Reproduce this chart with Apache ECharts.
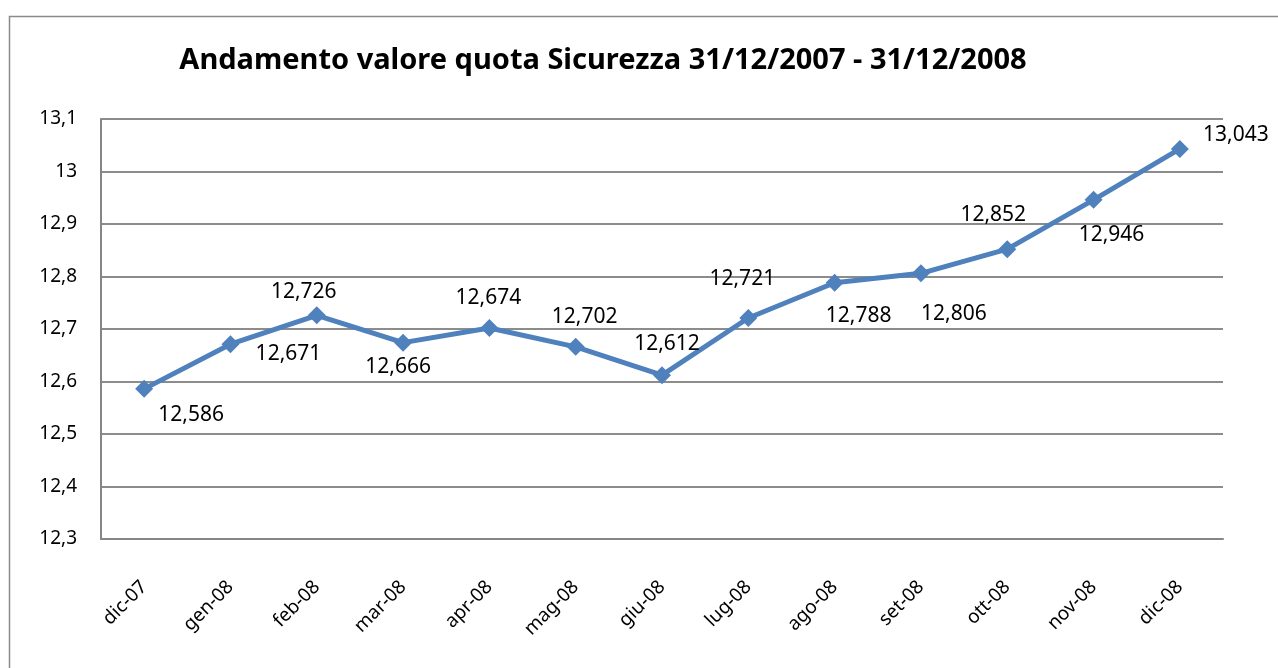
<!DOCTYPE html>
<html>
<head>
<meta charset="utf-8">
<script src="https://cdn.jsdelivr.net/npm/echarts@6/dist/echarts.min.js"></script>
<style>
  html, body { margin: 0; padding: 0; background: #fff; }
  #chart { width: 1278px; height: 668px; }
</style>
</head>
<body>
<div id="chart"></div>
<script>
// dati
var mesi = ['dic-07', 'gen-08', 'feb-08', 'mar-08', 'apr-08', 'mag-08', 'giu-08',
            'lug-08', 'ago-08', 'set-08', 'ott-08', 'nov-08', 'dic-08'];
var valori = [12.586, 12.671, 12.726, 12.674, 12.702, 12.666, 12.612,
              12.721, 12.788, 12.806, 12.852, 12.946, 13.043];
// etichette come appaiono nel grafico originale
var etichette = ['12,586', '12,671', '12,726', '12,666', '12,674', '12,702', '12,612',
                 '12,721', '12,788', '12,806', '12,852', '12,946', '13,043'];
var spostamenti = [[47, 26], [58, 10], [-13, -23], [-5, 24], [-1, -30], [9, -30], [5, -31],
                   [-6, -39], [24, 33], [33, 41], [-14, -34], [18, 35], [56, -14]];

var chart = echarts.init(document.getElementById('chart'));

var punti = valori.map(function (v, i) {
  return {
    value: v,
    label: { offset: spostamenti[i] }
  };
});

var option = {
  animation: false,
  title: {
    text: 'Andamento valore quota Sicurezza 31/12/2007 - 31/12/2008',
    left: 598,
    textAlign: 'center',
    top: 41,
    textStyle: {
      fontFamily: '"Noto Sans", sans-serif',
      fontWeight: 'bold',
      fontSize: 29,
      color: '#000'
    }
  },
  graphic: [{
    type: 'rect',
    shape: { x: 9.5, y: 16.5, width: 1400, height: 800 },
    style: { fill: 'none', stroke: '#8a8a8a', lineWidth: 1.5 },
    silent: true
  }],
  grid: { left: 101, right: 55, top: 119, bottom: 129 },
  xAxis: {
    type: 'category',
    data: mesi,
    boundaryGap: true,
    axisLine: { lineStyle: { color: '#868686', width: 2 } },
    axisTick: { show: false },
    axisLabel: {
      rotate: 45,
      margin: 45,
      color: '#000',
      fontFamily: '"Noto Sans", sans-serif',
      fontSize: 19
    }
  },
  yAxis: {
    type: 'value',
    min: 12.3,
    max: 13.1,
    interval: 0.1,
    axisLine: { show: true, lineStyle: { color: '#868686', width: 2 } },
    axisTick: { show: false },
    splitLine: { lineStyle: { color: '#8c8c8c', width: 2 } },
    axisLabel: {
      margin: 24,
      color: '#000',
      fontFamily: '"Noto Sans", sans-serif',
      fontSize: 19,
      formatter: function (v) {
        return (Math.round(v * 10) / 10).toString().replace('.', ',');
      }
    }
  },
  series: [{
    type: 'line',
    data: punti,
    symbol: 'diamond',
    symbolSize: 18,
    lineStyle: { color: '#4f81bd', width: 5 },
    itemStyle: { color: '#4f81bd' },
    label: {
      show: true,
      position: 'inside',
      color: '#000',
      fontFamily: '"Noto Sans", sans-serif',
      fontSize: 21,
      formatter: function (p) { return etichette[p.dataIndex]; }
    }
  }]
};

chart.setOption(option);
</script>
</body>
</html>
